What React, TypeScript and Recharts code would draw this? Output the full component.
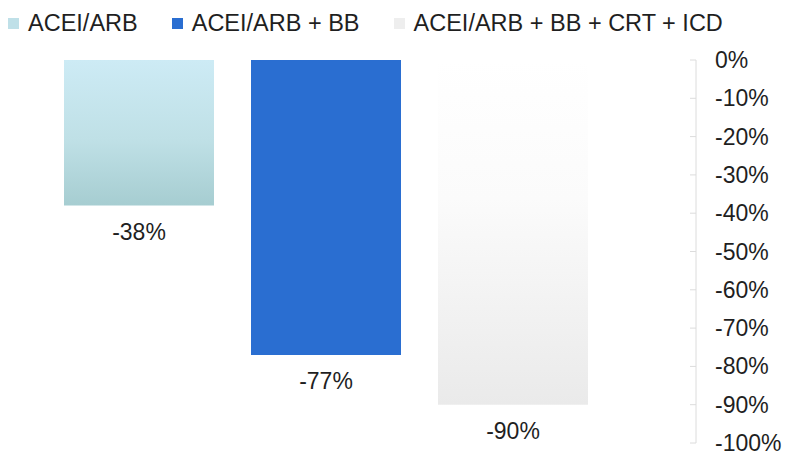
import { BarChart, Bar, XAxis, YAxis, Legend, LabelList } from "recharts";

const seriesNames = ["ACEI/ARB", "ACEI/ARB + BB", "ACEI/ARB + BB + CRT + ICD"];
const seriesKeys = ["s1", "s2", "s3"];
const seriesValues = [-38, -77, -90];
const yTicks = [0, -10, -20, -30, -40, -50, -60, -70, -80, -90, -100];

// one row per bar, each row carries only its own series so the stack keeps one bar per slot
const data = seriesKeys.map((key, i) => ({ name: seriesNames[i], [key]: seriesValues[i] }));

const fills = ["url(#gLight)", "#2a6ed1", "url(#gGrey)"];
const legendColors: Record<string, string> = { s1: "#bfe0e8", s2: "#2a6ed1", s3: "#eeeeee" };

const FONT = "'Liberation Sans', Arial, sans-serif";
const TEXT = "#1f1f1f";

function LegendContent(props: any) {
  const items = props.payload || [];
  return (
    <div style={{ height: 60, display: "flex", alignItems: "flex-start", paddingTop: 10, boxSizing: "border-box", fontFamily: FONT, fontSize: 23.5, color: TEXT }}>
      {items.map((it: any, i: number) => (
        <div key={it.value} style={{ display: "flex", alignItems: "center", lineHeight: "26px", marginLeft: i === 0 ? 8 : 34 }}>
          <span style={{ width: 11, height: 11, background: legendColors[it.dataKey], display: "inline-block", marginRight: 9 }} />
          <span>{it.value}</span>
        </div>
      ))}
    </div>
  );
}

function YTick(props: any) {
  const { x, y, payload } = props;
  const axisX = x - 19;
  return (
    <g>
      <line x1={axisX - 6} x2={axisX} y1={y} y2={y} stroke="#dcdcdc" />
      <text x={x} y={y} dominantBaseline="central" textAnchor="start" fontFamily={FONT} fontSize={23} fill={TEXT}>
        {`${payload.value}%`}
      </text>
    </g>
  );
}

function BarValue(props: any) {
  const { x, y, width, height, value } = props;
  if (value === undefined || value === null) return null;
  const bottom = Math.max(y, y + height);
  return (
    <text x={x + width / 2} y={bottom + 26} dominantBaseline="central" textAnchor="middle" fontFamily={FONT} fontSize={23} fill={TEXT}>
      {`${value}%`}
    </text>
  );
}

export default function App() {
  return (
    <div style={{ position: "absolute", left: 0, top: 0, width: 791, height: 455, background: "#fff" }}>
      <BarChart width={791} height={455} data={data} margin={{ top: 0, right: 0, bottom: 12, left: 45 }}>
        <defs>
          <linearGradient id="gLight" x1="0" y1="0" x2="0" y2="1">
            <stop offset="0%" stopColor="#cdebf5" />
            <stop offset="55%" stopColor="#bfe0e6" />
            <stop offset="100%" stopColor="#a6cdd1" />
          </linearGradient>
          <linearGradient id="gGrey" x1="0" y1="0" x2="0" y2="1">
            <stop offset="0%" stopColor="#ffffff" />
            <stop offset="40%" stopColor="#fbfbfb" />
            <stop offset="100%" stopColor="#eaeaea" />
          </linearGradient>
        </defs>
        <XAxis dataKey="name" hide padding={{ left: 0, right: 90 }} />
        <YAxis
          orientation="right"
          width={95}
          domain={[-100, 0]}
          ticks={yTicks}
          interval={0}
          axisLine={{ stroke: "#dcdcdc" }}
          tickLine={false}
          tickSize={0}
          tickMargin={19}
          tick={<YTick />}
        />
        <Legend verticalAlign="top" align="left" wrapperStyle={{ left: 0, width: 791 }} content={<LegendContent />} />
        {seriesKeys.map((key, i) => (
          <Bar key={key} dataKey={key} name={seriesNames[i]} stackId="a" fill={fills[i]} barSize={150} isAnimationActive={false}>
            <LabelList dataKey={key} content={<BarValue />} />
          </Bar>
        ))}
      </BarChart>
    </div>
  );
}
